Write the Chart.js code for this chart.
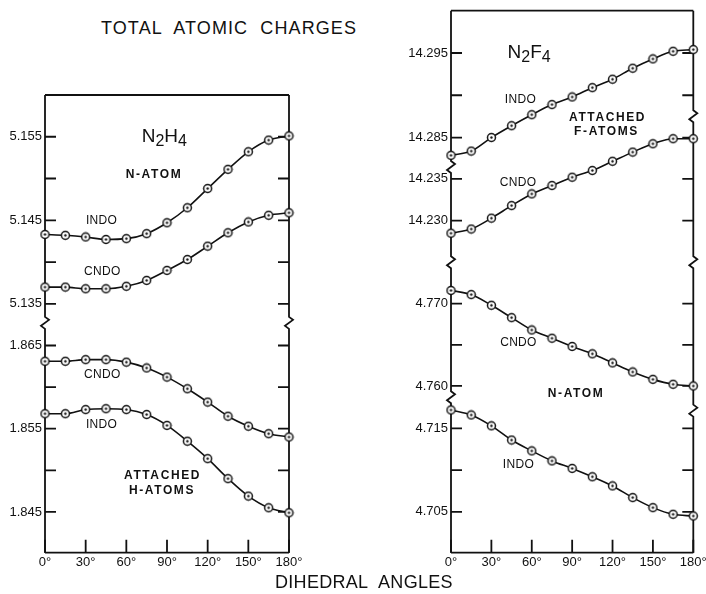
<!DOCTYPE html>
<html>
<head>
<meta charset="utf-8">
<script src="https://cdn.jsdelivr.net/npm/chart.js@4.4.1/dist/chart.umd.min.js"></script>
<style>
  body { margin: 0; background: #fff; width: 706px; height: 594px; position: relative; overflow: hidden;
         font-family: 'Liberation Sans', Arial, sans-serif; color: #111; }
  .panel { position: absolute; top: 0; height: 594px; }
  #left { left: 0; width: 340px; }
  #right { left: 340px; width: 366px; }
  .title { position: absolute; font-size: 18px; letter-spacing: 1.1px; word-spacing: 6px; white-space: nowrap; }
</style>
</head>
<body>
<div class="title" style="left:101px; top:18px;">TOTAL ATOMIC CHARGES</div>
<div class="panel" id="left"><canvas id="c1" width="340" height="594"></canvas></div>
<div class="panel" id="right"><canvas id="c2" width="366" height="594"></canvas></div>
<div class="title" style="left:275px; top:572px; letter-spacing:0.3px;">DIHEDRAL ANGLES</div>
<script>
const angles = [0, 15, 30, 45, 60, 75, 90, 105, 120, 135, 150, 165, 180];
const angleTicks = [0, 30, 60, 90, 120, 150, 180];

// N2H4
const n2h4NIndo = [5.1433, 5.1432, 5.1430, 5.1427, 5.1428, 5.1434, 5.1447, 5.1465, 5.1488, 5.1511, 5.1532, 5.1546, 5.1551];
const n2h4NCndo = [5.1370, 5.1370, 5.1368, 5.1368, 5.1371, 5.1378, 5.1390, 5.1403, 5.1419, 5.1435, 5.1448, 5.1456, 5.1459];
const n2h4HCndo = [1.8631, 1.8631, 1.8633, 1.8633, 1.8630, 1.8623, 1.8612, 1.8598, 1.8582, 1.8565, 1.8553, 1.8544, 1.8540];
const n2h4HIndo = [1.8568, 1.8568, 1.8573, 1.8574, 1.8573, 1.8567, 1.8554, 1.8535, 1.8514, 1.8490, 1.8469, 1.8455, 1.8449];

// N2F4
const n2f4FIndo = [14.2829, 14.2834, 14.2850, 14.2864, 14.2877, 14.2889, 14.2898, 14.2909, 14.2919, 14.2932, 14.2943, 14.2952, 14.2954];
const n2f4FCndo = [14.2285, 14.2290, 14.2303, 14.2318, 14.2332, 14.2342, 14.2352, 14.2360, 14.2371, 14.2382, 14.2392, 14.2398, 14.2398];
const n2f4NCndo = [4.7716, 4.7711, 4.7698, 4.7683, 4.7668, 4.7658, 4.7648, 4.7639, 4.7628, 4.7617, 4.7608, 4.7602, 4.7600];
const n2f4NIndo = [4.7172, 4.7166, 4.7153, 4.7136, 4.7123, 4.7111, 4.7102, 4.7092, 4.7081, 4.7067, 4.7055, 4.7047, 4.7045];

// tick values and labels of each axis piece
const hTopTicks = [5.135, 5.140, 5.145, 5.150, 5.155];
const hTopLabels = ['5.135', '', '5.145', '', '5.155'];
const hLowTicks = [1.845, 1.850, 1.855, 1.860, 1.865];
const hLowLabels = ['1.845', '', '1.855', '', '1.865'];
const fATicks = [14.285, 14.290, 14.295];
const fALabels = ['14.285', '', '14.295'];
const fBTicks = [14.230, 14.235];
const fBLabels = ['14.230', '14.235'];
const fCTicks = [4.760, 4.765, 4.770];
const fCLabels = ['4.760', '', '4.770'];
const fDTicks = [4.705, 4.710, 4.715];
const fDLabels = ['4.705', '', '4.715'];

const FONT = "'Liberation Sans', Arial, sans-serif";
const INK = '#111';

// open circle with a dot in the middle
const dot = document.createElement('canvas');
dot.width = dot.height = 11;
const dc = dot.getContext('2d');
dc.fillStyle = '#fff';
dc.strokeStyle = INK;
dc.lineWidth = 1.5;
dc.beginPath(); dc.arc(5.5, 5.5, 4, 0, Math.PI * 2); dc.fill(); dc.stroke();
dc.fillStyle = INK;
dc.beginPath(); dc.arc(5.5, 5.5, 1.2, 0, Math.PI * 2); dc.fill();

function series(values, axis) {
  return {
    data: angles.map((a, i) => ({ x: a, y: values[i] })),
    yAxisID: axis,
    borderColor: INK,
    borderWidth: 1.6,
    pointStyle: dot,
    pointRadius: 4,
    cubicInterpolationMode: 'monotone',
    clip: false
  };
}

function piece(min, max, ticks, labels, weight) {
  return {
    type: 'linear', position: 'left', stack: 'y', stackWeight: weight, min: min, max: max,
    grid: { display: false, drawTicks: false },
    border: { display: false },
    afterBuildTicks: s => { s.ticks = ticks.map(v => ({ value: v })); },
    afterFit: s => { s.width = 45; s.paddingTop = 0; s.paddingBottom = 0; },
    ticks: { autoSkip: false, padding: 3, color: INK, font: { family: FONT, size: 13 },
             callback: (v, i) => labels[i] }
  };
}

const xAxis = {
  type: 'linear', min: 0, max: 180, position: 'bottom',
  grid: { display: false, drawTicks: false },
  border: { display: false },
  afterBuildTicks: s => { s.ticks = angleTicks.map(v => ({ value: v })); },
  afterFit: s => { s.height = 20; s.paddingLeft = 0; s.paddingRight = 0; },
  ticks: { autoSkip: false, maxRotation: 0, padding: 2, color: INK, font: { family: FONT, size: 13 },
           callback: v => v + '°' }
};

function brokenLine(ctx, x, top, bottom, breaks) {
  ctx.beginPath();
  ctx.moveTo(x, top);
  breaks.forEach(b => {
    ctx.lineTo(x, b - 7);
    ctx.lineTo(x + 4, b - 4);
    ctx.lineTo(x - 4, b + 2);
    ctx.lineTo(x, b + 5);
  });
  ctx.lineTo(x, bottom);
  ctx.stroke();
}

function decor(opts) {
  return {
    id: 'decor',
    beforeDatasetsDraw(chart) {
      const { ctx, chartArea: a, scales } = chart;
      const segs = opts.axes.map(id => scales[id]).sort((p, q) => p.top - q.top);
      const breaksL = segs.slice(0, -1).map(s => s.bottom);
      const breaksR = opts.rightBreaks
        ? opts.rightBreaks.map(([id, v]) => scales[id].getPixelForValue(v))
        : breaksL;
      ctx.save();
      ctx.strokeStyle = INK;
      ctx.lineWidth = 1.8;
      ctx.beginPath();
      ctx.moveTo(a.left, a.top); ctx.lineTo(a.right, a.top);
      ctx.moveTo(a.left, a.bottom); ctx.lineTo(a.right, a.bottom);
      ctx.stroke();
      brokenLine(ctx, a.left, a.top, a.bottom, breaksL);
      brokenLine(ctx, a.right, a.top, a.bottom, breaksR);
      ctx.beginPath();
      segs.forEach(s => s.ticks.forEach(t => {
        const y = s.getPixelForValue(t.value);
        ctx.moveTo(a.left, y); ctx.lineTo(a.left + 11, y);
        ctx.moveTo(a.right - 11, y); ctx.lineTo(a.right, y);
      }));
      scales.x.ticks.forEach(t => {
        const x = scales.x.getPixelForValue(t.value);
        ctx.moveTo(x, a.bottom); ctx.lineTo(x, a.bottom - 13);
      });
      ctx.stroke();
      ctx.restore();
    },
    afterDraw(chart) {
      const { ctx, scales } = chart;
      ctx.save();
      ctx.fillStyle = INK;
      ctx.textBaseline = 'middle';
      opts.notes.forEach(n => {
        const x = scales.x.getPixelForValue(n.x);
        const y = scales[n.ax].getPixelForValue(n.y);
        if (n.parts) {
          const fonts = n.parts.map(p => (p[1] ? '16px ' : '19px ') + FONT);
          let w = 0;
          n.parts.forEach((p, i) => { ctx.font = fonts[i]; w += ctx.measureText(p[0]).width; });
          let cx = x - w / 2;
          ctx.textAlign = 'left';
          n.parts.forEach((p, i) => {
            ctx.font = fonts[i];
            ctx.fillText(p[0], cx, y + (p[1] ? 5 : 0));
            cx += ctx.measureText(p[0]).width;
          });
        } else {
          ctx.font = (n.bold ? 'bold ' : '') + '12px ' + FONT;
          ctx.letterSpacing = n.bold ? '1.6px' : '0.3px';
          ctx.textAlign = 'center';
          ctx.fillText(n.t, x, y);
          ctx.letterSpacing = '0px';
        }
      });
      ctx.restore();
    }
  };
}

// left-side stacked axes are laid out bottom first
new Chart(document.getElementById('c1'), {
  type: 'line',
  data: {
    datasets: [
      series(n2h4NIndo, 'yTop'),
      series(n2h4NCndo, 'yTop'),
      series(n2h4HCndo, 'yLow'),
      series(n2h4HIndo, 'yLow')
    ]
  },
  options: {
    responsive: false,
    animation: false,
    layout: { padding: { top: 95, bottom: 21.3, left: 0, right: 51 } },
    plugins: { legend: { display: false }, tooltip: { enabled: false } },
    scales: {
      x: xAxis,
      yLow: piece(1.8401, 1.8676, hLowTicks, hLowLabels, 1),
      yTop: piece(5.1326, 5.1600, hTopTicks, hTopLabels, 1)
    }
  },
  plugins: [decor({
    axes: ['yTop', 'yLow'],
    notes: [
      { parts: [['N', 0], ['2', 1], ['H', 0], ['4', 1]], x: 88, y: 5.155, ax: 'yTop' },
      { t: 'N-ATOM', bold: true, x: 80.4, y: 5.1505, ax: 'yTop' },
      { t: 'INDO', x: 41.7, y: 5.1450, ax: 'yTop' },
      { t: 'CNDO', x: 42.3, y: 5.1388, ax: 'yTop' },
      { t: 'CNDO', x: 42.3, y: 1.8615, ax: 'yLow' },
      { t: 'INDO', x: 41.7, y: 1.8555, ax: 'yLow' },
      { t: 'ATTACHED', bold: true, x: 86.7, y: 1.8494, ax: 'yLow' },
      { t: 'H-ATOMS', bold: true, x: 86.3, y: 1.8475, ax: 'yLow' }
    ]
  })]
});

new Chart(document.getElementById('c2'), {
  type: 'line',
  data: {
    datasets: [
      series(n2f4FIndo, 'yA'),
      series(n2f4FCndo, 'yB'),
      series(n2f4NCndo, 'yC'),
      series(n2f4NIndo, 'yD')
    ]
  },
  options: {
    responsive: false,
    animation: false,
    layout: { padding: { top: 10.7, bottom: 21.3, left: 66, right: 12.7 } },
    plugins: { legend: { display: false }, tooltip: { enabled: false } },
    scales: {
      x: xAxis,
      yD: piece(4.7001, 4.7186, fDTicks, fDLabels, 154.4),
      yC: piece(4.7585, 4.7749, fCTicks, fCLabels, 135),
      yB: piece(14.2249, 14.2363, fBTicks, fBLabels, 95.3),
      yA: piece(14.2814, 14.3000, fATicks, fALabels, 157.3)
    }
  },
  plugins: [decor({
    axes: ['yA', 'yB', 'yC', 'yD'],
    rightBreaks: [['yA', 14.2874], ['yB', 14.2249], ['yD', 4.7170]],
    notes: [
      { parts: [['N', 0], ['2', 1], ['F', 0], ['4', 1]], x: 58, y: 14.295, ax: 'yA' },
      { t: 'INDO', x: 51.6, y: 14.2895, ax: 'yA' },
      { t: 'ATTACHED', bold: true, x: 116.3, y: 14.2874, ax: 'yA' },
      { t: 'F-ATOMS', bold: true, x: 115.5, y: 14.2857, ax: 'yA' },
      { t: 'CNDO', x: 49.8, y: 14.2346, ax: 'yB' },
      { t: 'CNDO', x: 50.1, y: 4.7652, ax: 'yC' },
      { t: 'N-ATOM', bold: true, x: 92.9, y: 4.7591, ax: 'yC' },
      { t: 'INDO', x: 50.1, y: 4.7106, ax: 'yD' }
    ]
  })]
});
</script>
</body>
</html>
